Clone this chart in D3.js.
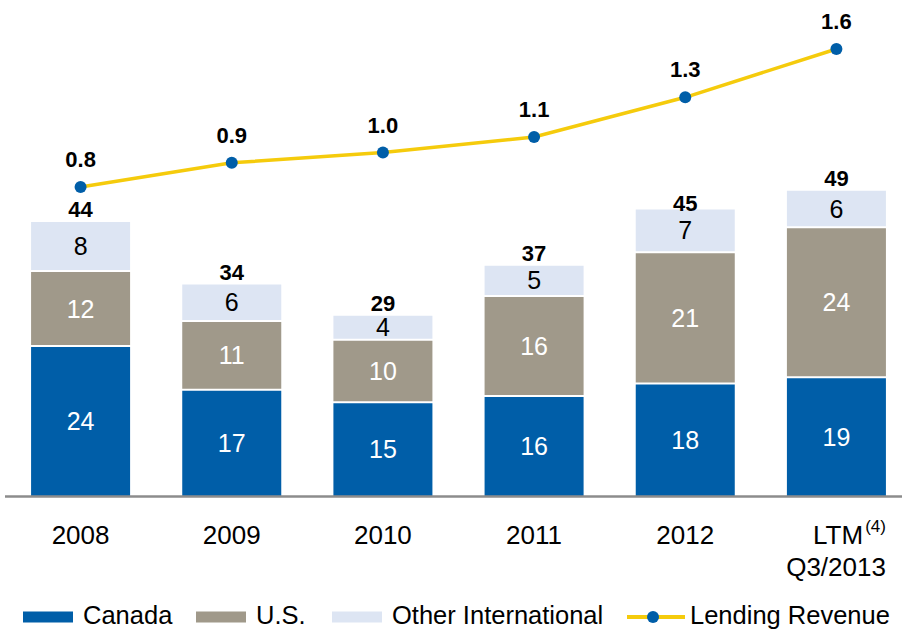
<!DOCTYPE html>
<html>
<head>
<meta charset="utf-8">
<script src="https://cdn.jsdelivr.net/npm/d3@7"></script>
<style>
  body { margin: 0; background: #fff; }
  svg text { font-family: Arial, "Liberation Sans", sans-serif; }
</style>
</head>
<body>
<div id="chart"></div>
<script>
const categories = ['2008', '2009', '2010', '2011', '2012', 'LTM'];
const canada = [24, 17, 15, 16, 18, 19];
const us = [12, 11, 10, 16, 21, 24];
const otherIntl = [8, 6, 4, 5, 7, 6];
const totals = [44, 34, 29, 37, 45, 49];
const lendingRevenue = [0.8, 0.94, 1.0, 1.09, 1.32, 1.6];

const width = 902, height = 629;
const colors = { canada: '#005EA8', us: '#A0998A', other: '#DDE5F3', line: '#F5CB0C', dot: '#005EA8' };

const svg = d3.select('#chart').append('svg')
    .attr('width', width)
    .attr('height', height);

const x = d3.scaleBand()
    .domain(categories)
    .range([5, 912])
    .paddingInner(0.345)
    .paddingOuter(0.1725);

const y = d3.scaleLinear().domain([0, 50]).range([496, 183.5]);
const y2 = d3.scaleLinear().domain([0, 1.6]).range([325, 49]);

const series = [
    { key: 'canada', values: canada, fill: colors.canada, text: '#fff' },
    { key: 'us', values: us, fill: colors.us, text: '#fff' },
    { key: 'other', values: otherIntl, fill: colors.other, text: '#000' }
];

// stacked bars
const stackData = categories.map((c, i) => {
    let base = 0;
    return series.map(s => {
        const seg = { cat: c, y0: base, y1: base + s.values[i], v: s.values[i], s };
        base += s.values[i];
        return seg;
    });
}).flat();

const bars = svg.append('g');
bars.selectAll('rect')
    .data(stackData)
    .enter().append('rect')
    .attr('x', d => x(d.cat))
    .attr('y', d => y(d.y1) + 1)
    .attr('width', x.bandwidth())
    .attr('height', d => Math.max(0, y(d.y0) - y(d.y1) - (d.y0 === 0 ? 1 : 2)))
    .attr('fill', d => d.s.fill);

bars.selectAll('text')
    .data(stackData)
    .enter().append('text')
    .attr('x', d => x(d.cat) + x.bandwidth() / 2)
    .attr('y', d => (y(d.y0) + y(d.y1)) / 2 + 9)
    .attr('text-anchor', 'middle')
    .attr('font-size', 25)
    .attr('fill', d => d.s.text)
    .text(d => d.v);

// totals
svg.append('g').selectAll('text')
    .data(categories)
    .enter().append('text')
    .attr('x', d => x(d) + x.bandwidth() / 2)
    .attr('y', (d, i) => y(totals[i]) - 4)
    .attr('text-anchor', 'middle')
    .attr('font-size', 22)
    .attr('font-weight', 'bold')
    .text((d, i) => totals[i]);

// axis line
svg.append('line')
    .attr('x1', 5).attr('x2', width)
    .attr('y1', 496.5).attr('y2', 496.5)
    .attr('stroke', '#8C8C8C')
    .attr('stroke-width', 2.5);

// category labels
const xlab = svg.append('g');
categories.forEach((c, i) => {
    if (c === 'LTM') {
        const right = x(c) + x.bandwidth();
        const t = xlab.append('text')
            .attr('x', right)
            .attr('y', 544)
            .attr('text-anchor', 'end')
            .attr('font-size', 26);
        t.append('tspan').text('LTM');
        t.append('tspan').attr('font-size', 17).attr('dx', 2).attr('dy', -12).text('(4)');
        xlab.append('text')
            .attr('x', right)
            .attr('y', 576)
            .attr('text-anchor', 'end')
            .attr('font-size', 26)
            .text('Q3/2013');
    } else {
        xlab.append('text')
            .attr('x', x(c) + x.bandwidth() / 2)
            .attr('y', 544)
            .attr('text-anchor', 'middle')
            .attr('font-size', 26)
            .text(c);
    }
});

// lending revenue line
const line = d3.line()
    .x((d, i) => x(categories[i]) + x.bandwidth() / 2)
    .y(d => y2(d));

svg.append('path')
    .datum(lendingRevenue)
    .attr('d', line)
    .attr('fill', 'none')
    .attr('stroke', colors.line)
    .attr('stroke-width', 3.5);

svg.append('g').selectAll('circle')
    .data(lendingRevenue)
    .enter().append('circle')
    .attr('cx', (d, i) => x(categories[i]) + x.bandwidth() / 2)
    .attr('cy', d => y2(d))
    .attr('r', 6)
    .attr('fill', colors.dot);

svg.append('g').selectAll('text')
    .data(lendingRevenue)
    .enter().append('text')
    .attr('x', (d, i) => x(categories[i]) + x.bandwidth() / 2)
    .attr('y', d => y2(d) - 20)
    .attr('text-anchor', 'middle')
    .attr('font-size', 22)
    .attr('font-weight', 'bold')
    .text(d => d3.format('.1f')(d));

// legend
const legend = svg.append('g');
const legendY = 617;
[
    { label: 'Canada', fill: colors.canada, sx: 23, tx: 83 },
    { label: 'U.S.', fill: colors.us, sx: 196, tx: 256 },
    { label: 'Other International', fill: colors.other, sx: 332, tx: 392 }
].forEach(l => {
    legend.append('rect')
        .attr('x', l.sx).attr('y', legendY - 5.5)
        .attr('width', 50).attr('height', 11)
        .attr('fill', l.fill);
    legend.append('text')
        .attr('x', l.tx).attr('y', 624)
        .attr('font-size', 25.5)
        .text(l.label);
});
legend.append('line')
    .attr('x1', 627).attr('x2', 685)
    .attr('y1', legendY).attr('y2', legendY)
    .attr('stroke', colors.line).attr('stroke-width', 4);
legend.append('circle')
    .attr('cx', 653).attr('cy', legendY).attr('r', 6)
    .attr('fill', colors.dot);
legend.append('text')
    .attr('x', 690).attr('y', 624)
    .attr('font-size', 25.5)
    .text('Lending Revenue');
</script>
</body>
</html>
